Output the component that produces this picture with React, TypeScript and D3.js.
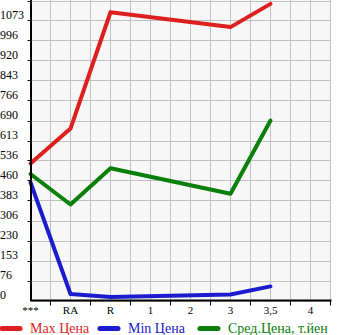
import React from "react";
import * as d3 from "d3";

const categories = ["***", "RA", "R", "1", "2", "3", "3,5", "4"];
const maxPrice: (number | null)[] = [525, 659, 1105, null, null, 1048, 1137, null];
const minPrice: (number | null)[] = [453, 25, 13, null, null, 23, 54, null];
const avgPrice: (number | null)[] = [485, 368, 507, null, null, 409, 690, null];
const yTickLabels = ["0", "76", "153", "230", "306", "383", "460", "536", "613", "690", "766", "843", "920", "996", "1073"];
const legendLabels = ["Max Цена", "Min Цена", "Сред.Цена, т.йен"];

const W = 345;
const H = 335;
const left = 30.5;
const right = 330.5;
const top = 0.5;
const bottom = 300.5;
const yMax = 1150;
const yStep = yMax / 15;
const font = "'Liberation Serif', 'Times New Roman', serif";

export default function App() {
  const x = d3.scaleLinear().domain([0, categories.length - 0.5]).range([left, right]);
  const y = d3.scaleLinear().domain([0, yMax]).range([bottom, top]);
  const vGrid = d3.range(0, categories.length - 0.5 + 0.001, 0.5);
  const hGrid = d3.range(0, 16).map((i) => i * yStep);

  const series = [
    { data: maxPrice, color: "#dd1f1f" },
    { data: minPrice, color: "#1c1ccf" },
    { data: avgPrice, color: "#0a7f0a" },
  ];

  const mkLine = (data: (number | null)[]) => {
    const pts = data
      .map((v, i) => (v == null ? null : [x(i), y(v)] as [number, number]))
      .filter((p): p is [number, number] => p !== null);
    return d3.line()(pts) || "";
  };

  const legendX = [0, 98, 198];

  return (
    <svg width={W} height={H} style={{ position: "absolute", left: 0, top: 0 }}>
      <rect x={left} y={top - 0.5} width={right - left} height={bottom - top + 0.5} fill="#f7f7f7" />
      {vGrid.map((g, i) => (
        <line key={"v" + i} x1={x(g)} x2={x(g)} y1={0} y2={bottom} stroke="#c0c0c0" strokeWidth={1} />
      ))}
      {hGrid.map((g, i) => (
        <line key={"h" + i} x1={left} x2={right} y1={Math.round(y(g)) + 0.5} y2={Math.round(y(g)) + 0.5} stroke="#c0c0c0" strokeWidth={1} />
      ))}
      {series.map((s, i) => (
        <path key={"s" + i} d={mkLine(s.data)} fill="none" stroke={s.color} strokeWidth={4} strokeLinejoin="round" strokeLinecap="round" />
      ))}
      {/* axes */}
      <line x1={left + 0.5} x2={left + 0.5} y1={0} y2={bottom + 0.5} stroke="#000" strokeWidth={2} />
      <line x1={left} x2={right + 1} y1={bottom} y2={bottom} stroke="#000" strokeWidth={2} />
      {hGrid.slice(1).map((g, i) => (
        <line key={"yt" + i} x1={left - 3} x2={left} y1={Math.round(y(g)) + 0.5} y2={Math.round(y(g)) + 0.5} stroke="#000" strokeWidth={1} />
      ))}
      {vGrid.filter((_, i) => i % 2 === 1).map((g, i) => (
        <line key={"xt" + i} x1={x(g)} x2={x(g)} y1={bottom} y2={bottom + 5} stroke="#000" strokeWidth={1} />
      ))}
      {yTickLabels.map((t, i) => (
        <text key={"yl" + i} x={0} y={y(i * yStep) - 1.5} fontFamily={font} fontSize={12} fill="#000">
          {t}
        </text>
      ))}
      {categories.map((c, i) => (
        <text key={"xl" + i} x={x(i)} y={314} textAnchor="middle" fontFamily={font} fontSize={11} fill="#000">
          {c}
        </text>
      ))}
      {legendLabels.map((l, i) => (
        <g key={"lg" + i}>
          <line x1={legendX[i] + 2} x2={legendX[i] + 20} y1={328.5} y2={328.5} stroke={series[i].color} strokeWidth={5} strokeLinecap="round" />
          <text x={legendX[i] + 30} y={332.5} fontFamily={font} fontSize={14} fill={series[i].color}>
            {l}
          </text>
        </g>
      ))}
    </svg>
  );
}
